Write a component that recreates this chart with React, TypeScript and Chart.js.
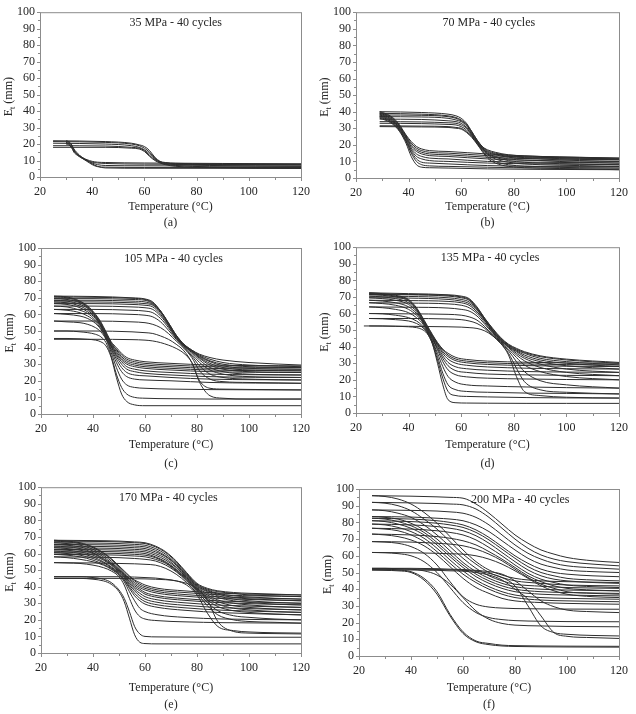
import React, { useEffect, useRef } from 'react';
import { Chart, registerables } from 'chart.js';

Chart.register(...registerables);

if (typeof document !== 'undefined') {
  document.body.style.margin = '0';
  document.body.style.background = '#ffffff';
}

// ---------- tick labels ----------
const X_TICKS = [20, 40, 60, 80, 100, 120];
const X_MINOR = [30, 50, 70, 90, 110];
const Y_TICKS = [0, 10, 20, 30, 40, 50, 60, 70, 80, 90, 100];
const Y_MINOR = [5, 15, 25, 35, 45, 55, 65, 75, 85, 95];

// ---------- panel titles ----------
const TITLES = ['35 MPa - 40 cycles', '70 MPa - 40 cycles', '105 MPa - 40 cycles', '135 MPa - 40 cycles', '170 MPa - 40 cycles', '200 MPa - 40 cycles'];
const CAPTIONS = ['(a)', '(b)', '(c)', '(d)', '(e)', '(f)'];

// ---------- (a) 35 MPa ----------
const HEAT_X_A = [25, 45, 55, 58, 60, 62, 64, 66, 68, 72, 85, 120];
const HEAT_A = [
  [22, 21.5, 20.5, 19.5, 18.5, 16, 12, 9.5, 8.8, 8.3, 8, 7.8],
  [21.5, 21, 20, 19, 17.5, 15, 11.5, 9.2, 8.5, 8, 7.5, 7.2],
  [20.5, 20, 19, 18, 16.5, 14, 11, 9, 8.2, 7.6, 7, 6.5],
  [19, 18.8, 18, 17.5, 16, 13, 10.5, 8.8, 7.8, 7, 6.2, 5.8],
  [18, 18, 17.5, 17, 15.5, 12.5, 10, 8.5, 7.5, 6.5, 5.8, 5.2],
];
const COOL_X_A = [30, 31, 32, 33, 34, 35, 36, 38, 40, 42, 45, 60, 120];
const COOL_A = [
  [22, 21.5, 20, 17, 15, 13.5, 12, 10.5, 9.5, 9, 8.8, 8.5, 8],
  [21.5, 21, 19.5, 16, 14, 12.5, 11.5, 10, 9, 8.5, 8.2, 7.8, 7.5],
  [21, 20.5, 19, 16.5, 14.5, 13, 12, 10, 8.5, 7.5, 7, 6.8, 6.5],
  [20.5, 20, 18.5, 15, 13.5, 12.5, 11.5, 9.5, 7.5, 6.3, 6, 5.8, 5.8],
  [20, 19.5, 18, 15.5, 14, 13, 12, 10, 8, 6.5, 5.5, 5.3, 5.2],
];

// ---------- (b) 70 MPa ----------
const HEAT_X_B = [29, 45, 55, 58, 60, 62, 64, 66, 68, 70, 73, 78, 90, 105, 120];
const HEAT_B = [
  [40, 39.5, 38.5, 37.5, 36, 33, 28, 23, 19, 17, 15.5, 14, 13, 12.5, 12],
  [39, 38.5, 37.5, 36.5, 35, 32.5, 28, 23, 19, 16.5, 15, 13.5, 12.5, 12, 11.5],
  [38, 37.8, 37, 36, 34.5, 32, 27.5, 22.5, 18.5, 16, 14.5, 13, 12, 11.5, 11],
  [37, 36.8, 36, 35, 34, 31.5, 27, 22, 18, 15.5, 14, 12.5, 11.5, 10.5, 10],
  [35.5, 35.3, 34.5, 34, 33, 30.5, 26.5, 22, 18, 15, 13, 11.5, 10.5, 9.5, 9],
  [34, 33.8, 33.3, 33, 32, 30, 26, 21.5, 17.5, 14.5, 12.5, 10.5, 9, 8.5, 8],
  [33, 32.8, 32.3, 32, 31, 29, 25.5, 21, 17, 14, 11.5, 9.5, 8, 7.5, 7],
  [31.5, 31.3, 31, 30.5, 30, 28, 25, 21, 16.5, 13, 10, 8, 6.8, 6.2, 6],
  [31, 30.8, 30.5, 30, 29.5, 27.5, 24.5, 20.5, 16, 12, 9, 7, 6, 5.5, 5],
];
const COOL_X_B = [29, 31, 33, 35, 37, 39, 41, 43, 45, 48, 55, 70, 90, 120];
const COOL_B = [
  [40, 39, 37.5, 35, 31, 26, 22, 19, 17.5, 16.5, 16, 14.5, 13, 12],
  [39.5, 38.5, 37, 34.5, 30.5, 25.5, 21, 18, 16.5, 15.5, 15, 13.5, 12.5, 11.5],
  [39, 38, 36.5, 34, 30, 25, 20, 17, 15.5, 14.5, 14, 12.5, 11.5, 11],
  [38.5, 37.5, 36, 33.5, 29.5, 24.5, 19, 16, 14.5, 13.5, 13, 11.5, 10.5, 10],
  [38, 37, 35.5, 33, 29, 24, 18, 14.5, 13, 12, 11.5, 10, 9.5, 9],
  [37.5, 36.5, 35, 32.5, 28.5, 23, 17, 13, 11.5, 10.5, 10, 9, 8.5, 8],
  [37, 36, 34.5, 32, 28, 22.5, 16, 11.5, 9.5, 9, 8.5, 7.5, 7, 7],
  [36.5, 35.5, 34, 31.5, 27.5, 22, 15, 10, 8, 7.3, 7, 6.5, 6, 6],
  [36, 35, 33.5, 31, 27, 21, 13, 8, 6.5, 6.2, 6, 5.5, 5.2, 5],
];

// ---------- (c) 105 MPa ----------
const HEAT_X_C = [25, 40, 55, 60, 63, 66, 69, 72, 75, 78, 81, 85, 90, 100, 120];
const HEAT_C = [
  [45, 45, 44.8, 44.5, 44, 43, 41.5, 39.5, 36.5, 31, 19, 11, 9.5, 9, 9],
  [50, 50, 49.5, 49, 48.5, 47, 45, 42, 38, 31, 20, 15.5, 15, 14.8, 14.5],
  [56, 56, 55.5, 55, 54, 52, 48.5, 44, 39.5, 34, 26, 21, 19.5, 19, 18.5],
  [60.5, 60.5, 60, 59.5, 58.5, 55.5, 50.5, 45, 40, 35, 29, 24, 22, 21, 20.5],
  [63, 63, 62.5, 62, 61, 57.5, 52, 45.5, 40.5, 36, 31, 26.5, 24, 22.5, 22],
  [65, 65, 64.5, 64, 63, 59, 53, 46, 41, 37, 32.5, 28, 25.5, 24, 23.5],
  [66.5, 66.5, 66, 65.5, 64.5, 60, 53.5, 46.5, 41, 37.5, 33.5, 29.5, 27, 25.5, 25],
  [67.5, 67.5, 67, 66.5, 65.5, 61, 54, 47, 41.5, 38, 34, 30.5, 28, 26.5, 26],
  [68.5, 68.5, 68, 67.5, 66, 61.5, 54.5, 47, 41.5, 38, 34.5, 31.5, 29, 27.5, 27],
  [69.5, 69.5, 69, 68.5, 66.5, 62, 54.5, 47, 41.5, 38, 35, 32, 30, 28.5, 28],
  [70.5, 70.3, 69.7, 69, 67, 62, 55, 47.5, 42, 38.5, 35.5, 33, 31, 29.5, 28.5],
  [71, 70.8, 70, 69.3, 67.5, 62, 55, 47.5, 42, 38.5, 36, 34, 32.5, 31, 29.5],
];
const COOL_X_C = [25, 30, 35, 38, 41, 43, 45, 47, 49, 51, 53, 56, 60, 70, 85, 120];
const COOL_C = [
  [45.5, 45.5, 45.3, 45, 44.5, 43.5, 41, 34, 22, 12, 7.5, 5.5, 5, 5, 5, 5],
  [50, 50, 49.5, 49, 48, 46.5, 43, 35, 24, 16, 12, 10, 9.5, 9.2, 9, 9],
  [56, 55.5, 55, 54, 52, 49.5, 45, 37, 28, 21, 17.5, 16, 15.5, 15, 14.7, 14.5],
  [60.5, 60, 59, 57.5, 54.5, 51, 45.5, 38.5, 31, 25.5, 22.5, 21, 20.5, 20, 19, 18.5],
  [63, 62.5, 61, 59, 55.5, 51.5, 46, 39.5, 33, 28, 25, 23.5, 23, 22, 21, 20.5],
  [65, 64.5, 62.5, 60.5, 56.5, 52.5, 46.5, 40.5, 34.5, 30, 27, 25.5, 24.5, 23.5, 22.5, 22],
  [66.5, 66, 64, 61.5, 57.5, 53, 47, 41, 35.5, 31.5, 28.5, 27, 26, 25, 24, 23.5],
  [67.5, 67, 65, 62.5, 58, 53.5, 47.5, 41.5, 36.5, 32.5, 30, 28.5, 27.5, 26.5, 25.5, 25],
  [68.5, 68, 66, 63.5, 58.5, 54, 48, 42, 37.5, 33.5, 31, 29.5, 28.5, 27.5, 26.5, 26],
  [69.5, 69, 67, 64, 59, 54.5, 48.5, 42.5, 38.5, 34.5, 32, 30.5, 29.5, 28.5, 27.5, 27],
  [70.5, 70, 67.5, 64.5, 59.5, 55, 49, 43, 39, 35.5, 33, 31.5, 30.5, 29.5, 28.5, 28],
  [71, 70.5, 68, 65, 60, 55.5, 49.5, 43.5, 40, 36.5, 34, 32.5, 31.5, 30.5, 29.5, 29],
];

// ---------- (d) 135 MPa ----------
const HEAT_X_D = [23, 25, 40, 55, 60, 63, 66, 69, 72, 75, 78, 81, 84, 90, 100, 120];
const HEAT_D = [
  [null, 72.5, 72, 71.3, 70.5, 69, 64, 57, 51, 45.5, 41.5, 39, 37, 34.5, 32.5, 30.5],
  [null, 72, 71.5, 71, 70, 68.5, 63.5, 57, 50.5, 45, 41, 38.5, 36.5, 34, 32, 30],
  [null, 71.5, 71.3, 70.5, 69.5, 68, 63, 56.5, 50, 45, 41, 38, 36, 33, 31, 29],
  [null, 70.5, 70.3, 69.5, 68.5, 67, 62.5, 56, 49.5, 44.5, 40.5, 37.5, 35, 32, 30, 28],
  [null, 69.5, 69.3, 68.5, 67.5, 66, 62, 56, 49.5, 44, 40, 37, 34, 31, 28.5, 26.5],
  [null, 68, 67.8, 67.3, 66.5, 65, 61, 55.5, 49, 44, 40, 36, 33, 29.5, 26.5, 24.5],
  [null, 66.5, 66.3, 65.8, 65, 63.5, 60, 54.5, 48.5, 43.5, 39.5, 35, 31.5, 27.5, 24.5, 22.5],
  [null, 64, 63.8, 63.3, 62.5, 61.5, 58.5, 53.5, 48, 43, 38.5, 33.5, 29, 25, 22, 20],
  [null, 60, 59.8, 59.5, 59, 58, 56, 52, 47, 42.5, 37.5, 31, 25, 19.5, 17, 15],
  [null, 57, 57, 56.7, 56.3, 55.5, 54, 51, 46.5, 42, 36, 27, 19, 14, 12.5, 11.5],
  [52.5, 52.5, 52.3, 52, 51.8, 51.5, 51, 49.5, 46.5, 42, 35, 22, 13, 10.5, 9.5, 9],
];
const COOL_X_D = [25, 30, 35, 40, 43, 45, 47, 49, 51, 53, 55, 58, 62, 70, 85, 100, 120];
const COOL_D = [
  [52.5, 52.5, 52.3, 52, 51.5, 50.5, 48, 42, 30, 17, 8, 6.2, 6, 5.9, 5.8, 5.8, 5.8],
  [57, 56.8, 56.3, 55.5, 54, 52, 48.5, 42, 32, 21, 13, 10.5, 10, 9.7, 9.3, 9.1, 9],
  [60, 59.8, 59, 57.5, 55.5, 53, 49, 43, 34, 24, 17, 14, 13, 12.5, 12, 11.8, 11.5],
  [64, 63.5, 62.5, 60.5, 57.5, 54.5, 49.5, 43.5, 36, 28, 22, 18.5, 17, 16.3, 15.7, 15.3, 15],
  [66.5, 66, 65, 62.5, 59, 55.5, 50, 44.5, 38, 31, 26, 23, 21.8, 21, 20.5, 20.2, 20],
  [68, 67.5, 66.5, 64, 60, 56, 50.5, 45, 39, 33, 28.5, 25.5, 24.5, 23.5, 23, 22.7, 22.5],
  [69.5, 69, 68, 65.5, 61, 56.5, 51, 45.5, 40, 34.5, 30.5, 27.8, 26.7, 25.8, 25, 24.7, 24.5],
  [70.5, 70, 69, 66.5, 62, 57, 51.5, 46, 41, 36, 32.5, 30, 28.8, 27.8, 27, 26.7, 26.5],
  [71.5, 71, 70, 67.5, 62.5, 57.5, 52, 46.5, 41.5, 37, 34, 31.5, 30.3, 29.3, 28.6, 28.2, 28],
  [72, 71.5, 70.5, 68, 63, 58, 52.5, 47, 42, 38, 35, 32.5, 31.3, 30.3, 29.6, 29.2, 29],
  [72.5, 72, 71, 68.5, 63.5, 58.5, 53, 47.5, 42.5, 38.5, 36, 33.5, 32.3, 31.3, 30.6, 30.2, 30],
];

// ---------- (e) 170 MPa ----------
const HEAT_X_E = [25, 40, 50, 56, 60, 64, 68, 72, 76, 80, 84, 88, 94, 100, 110, 120];
const HEAT_E = [
  [68, 67.8, 67.5, 67, 66.5, 64.5, 61, 55.5, 48.5, 42, 39, 37.5, 36.5, 36, 35.5, 35],
  [67.5, 67.3, 67, 66.5, 66, 64, 60.5, 55, 48, 41.5, 38.5, 37, 36, 35, 34.5, 34],
  [66.5, 66.3, 66, 65.5, 65, 63, 59.5, 54, 47.5, 41, 38, 36, 34.5, 33.8, 33, 32.5],
  [65.5, 65.3, 65, 64.5, 64, 62, 58.5, 53.5, 47, 40.5, 37.5, 35.5, 33.5, 32.7, 32, 31.5],
  [64.5, 64.3, 64, 63.5, 63, 61, 58, 53, 46.5, 40, 37, 34.5, 32.5, 31.5, 30.5, 30],
  [63.5, 63.3, 63, 62.5, 62, 60, 57, 52, 46, 39.5, 36, 33.5, 31.5, 30.5, 29.5, 29],
  [62.5, 62.3, 62, 61.5, 61, 59, 56, 51.5, 45.5, 39, 35, 32, 30, 29, 28, 27.5],
  [61.5, 61.3, 61, 60.5, 60, 58, 55, 50.5, 45, 38.5, 34, 31, 28.5, 27.5, 26.5, 26],
  [60.5, 60.3, 60, 59.5, 59, 57.5, 54.5, 50, 44.5, 38, 33, 29.5, 27, 26, 25, 24.5],
  [59.5, 59.3, 59, 58.5, 58, 56.5, 54, 49.5, 44, 37.5, 32, 28, 25.5, 24.5, 23.5, 23],
  [58, 57.8, 57.5, 57, 56.5, 55.5, 53, 49, 43.5, 37, 30.5, 25.5, 22.5, 21.5, 20.5, 20],
  [54.5, 54.3, 54, 53.8, 53.5, 53, 51, 47.5, 42.5, 36, 28.5, 23, 20, 19, 18.5, 18],
  [46, 46, 46, 45.8, 45.5, 45.2, 44.5, 43.5, 41, 35, 24, 16, 13.5, 12.7, 12.2, 12],
  [45, 45, 45, 44.8, 44.7, 44.5, 44.2, 43.5, 42, 39, 32, 19, 13, 12, 11.7, 11.5],
];
const COOL_X_E = [25, 30, 35, 40, 44, 47, 50, 52, 54, 56, 58, 60, 65, 75, 90, 120];
const COOL_E = [
  [68, 67.5, 66.5, 64, 60.5, 57, 52.5, 49.5, 46.5, 44, 42.5, 41, 39, 37.5, 36, 35],
  [67.5, 67, 66, 63.5, 60, 56.5, 52, 49, 46, 43.5, 41.5, 40, 38, 36.5, 35, 34],
  [66.5, 66, 65, 62.5, 59, 55.5, 51, 48, 45, 42.5, 40.5, 39, 37, 35.3, 33.8, 32.5],
  [65.5, 65, 64, 61.5, 58, 54.5, 50.5, 47.5, 44.5, 41.5, 39.5, 38, 36, 34.3, 32.8, 31.5],
  [64.5, 64, 63, 60.5, 57, 54, 50, 47, 43.5, 40.5, 38.5, 36.5, 34.5, 32.8, 31.3, 30],
  [63.5, 63, 62, 60, 56.5, 53.5, 49.5, 46.5, 43, 39.5, 37.5, 35.5, 33.5, 31.8, 30.3, 29],
  [62.5, 62, 61, 59, 56, 53, 49, 46, 42, 38.5, 36, 34, 32, 30.3, 28.8, 27.5],
  [61.5, 61, 60, 58, 55, 52, 48.5, 45.5, 41, 37.5, 34.5, 32.5, 30.5, 28.8, 27.3, 26],
  [60.5, 60, 59, 57, 54.5, 51.5, 48, 44.5, 40, 36, 33, 31, 29, 27.3, 25.8, 24.5],
  [59.5, 59, 58, 56, 53.5, 51, 47.5, 44, 39, 34.5, 31.5, 29.5, 27.5, 25.8, 24.3, 23],
  [58, 57.5, 56.5, 55, 53, 50.5, 47, 43, 37, 31.5, 27, 25, 23, 21.5, 20.5, 20],
  [54.5, 54.3, 54, 53, 51.5, 49.5, 46, 41, 33, 26, 22, 20.5, 19.5, 18.8, 18.3, 18],
  [46, 46, 46, 45.5, 44.5, 42.5, 38, 33, 25, 16, 11.5, 10, 9.7, 9.6, 9.5, 9.5],
  [45, 45, 45, 44.5, 43.5, 41.5, 37, 31, 21, 11, 6.5, 5.7, 5.5, 5.5, 5.5, 5.5],
];

// ---------- (f) 200 MPa ----------
const HEAT_X_F = [25, 40, 50, 55, 60, 65, 70, 75, 80, 85, 90, 95, 100, 110, 120];
const HEAT_F = [
  [96, 95.7, 95.3, 95, 94.5, 91, 85.5, 79, 72.5, 67.5, 63.5, 61, 59, 57, 56],
  [92, 91.7, 91.3, 91, 90.5, 88, 83, 76.5, 70, 64.5, 60.5, 58, 56.5, 55, 54],
  [87.5, 87.2, 86.8, 86.3, 85.5, 83, 78.5, 72.5, 66.5, 61.5, 58, 55.5, 54, 52.8, 52],
  [83.5, 83.2, 82.5, 82, 81, 78.5, 74.5, 69, 63.5, 58.5, 55, 53, 51.5, 50.5, 50],
  [82.5, 82, 81, 80, 78.5, 75.5, 71, 65.5, 60, 55.5, 52, 50, 49, 48, 47.5],
  [81, 80.5, 79.5, 78.5, 77, 74, 69.5, 64, 58.5, 53.5, 50, 48, 46.5, 45.5, 45],
  [79, 78.5, 77.5, 76.5, 75, 72, 67.5, 62, 56.5, 51.5, 48, 46, 45, 44, 43.5],
  [76.5, 76, 75, 74, 72.5, 69.5, 65, 60, 54.5, 49.5, 46, 44, 42.5, 41.5, 41],
  [73, 72.5, 71.5, 70.5, 69, 66.5, 62.5, 58, 53, 48, 44.5, 42, 40.5, 39.5, 39],
  [68.5, 68.2, 67.5, 67, 66, 64, 61, 57, 52, 47, 43, 40.5, 38.5, 37.5, 37],
  [62, 61.8, 61.5, 61.2, 61, 60, 58, 55, 51, 46.5, 42, 39, 37, 35.5, 35],
  [52.5, 52.5, 52.3, 52, 51.8, 51.3, 50.5, 49, 45, 39, 33, 29.5, 27.5, 26.5, 26],
  [52, 52, 51.8, 51.6, 51.3, 50.8, 49.5, 47, 42, 30, 18, 14, 13, 12.3, 12],
  [51.5, 51.5, 51.3, 51, 50.8, 50, 48.5, 45.5, 40, 34, 24, 14, 11.8, 11, 10.5],
];
const COOL_X_F = [25, 30, 35, 40, 45, 50, 55, 60, 65, 70, 75, 80, 90, 100, 120];
const COOL_F = [
  [96, 95.5, 94, 91, 86, 79.5, 71.5, 63.5, 56.5, 51.5, 48.5, 46.5, 45, 44.5, 44],
  [92, 91.5, 90, 87, 82, 76, 68.5, 61, 55, 50, 47, 45, 43.5, 42.5, 42],
  [87.5, 87, 85.5, 83, 78.5, 72.5, 65.5, 58.5, 52.5, 48, 45, 43, 41.8, 41, 40.5],
  [83.5, 83, 82, 79.5, 75.5, 70, 63, 56, 50.5, 46.5, 43.5, 41.5, 40, 39.5, 39],
  [82.5, 82, 80.5, 78, 74, 68, 61, 54.5, 49, 45, 42, 40, 38.5, 38, 37.5],
  [81, 80.5, 79, 76.5, 72.5, 66.5, 59.5, 53, 47.5, 43.5, 40.5, 38.5, 37, 36.5, 36],
  [79, 78.5, 77, 74.5, 70.5, 64.5, 57.5, 51, 45.5, 41.5, 38.5, 36.5, 35, 34.5, 34],
  [76.5, 76, 75, 72.5, 68.5, 62.5, 55.5, 49, 44, 40, 37, 35, 33.5, 33, 32.5],
  [73, 72.5, 71.5, 69.5, 66, 60.5, 53.5, 46.5, 41, 37.5, 34.5, 33, 32, 31.5, 31],
  [68.5, 68.2, 67.5, 65.5, 61.5, 54.5, 44.5, 35.5, 31, 29.3, 28.7, 28.4, 28.2, 28.1, 28],
  [62, 61.8, 61.3, 60, 56.5, 50, 41, 32, 26, 23, 21.8, 21.2, 20.8, 20.6, 20.5],
  [52.5, 52.5, 52.3, 52, 51, 48.5, 43, 35, 27, 22, 19.5, 18.5, 18, 17.7, 17.5],
  [52, 52, 51.5, 50.5, 46.5, 38.5, 25, 14.5, 9, 7.5, 6.5, 6.2, 6, 5.9, 5.8],
  [51.5, 51.3, 51, 50, 45.5, 37, 24, 13.5, 8.5, 6.8, 6, 5.7, 5.5, 5.4, 5.3],
];

// ---------- styling / layout ----------
const FONT = "'Liberation Serif', 'Times New Roman', Times, serif";
const LINE_COLOR = '#2e2e2e';
const FRAME_COLOR = '#8c8c8c';
const TEXT_COLOR = '#262626';
const Y_AXIS_W = 32;

type PanelCfg = {
  title: string;
  caption: string;
  titleX: number;
  heatX: number[];
  heat: (number | null)[][];
  coolX: number[];
  cool: (number | null)[][];
  box: [number, number, number, number]; // left, top, width, height (page px)
  plot: [number, number, number, number]; // left, top, right, bottom (page px)
  capY: number;
  capGap: number;
};

const PANELS: PanelCfg[] = [
  { title: TITLES[0], caption: CAPTIONS[0], titleX: 72, heatX: HEAT_X_A, heat: HEAT_A, coolX: COOL_X_A, cool: COOL_A, box: [0, 0, 318, 235], plot: [40, 11, 306, 177], capY: 223, capGap: 16 },
  { title: TITLES[1], caption: CAPTIONS[1], titleX: 70.5, heatX: HEAT_X_B, heat: HEAT_B, coolX: COOL_X_B, cool: COOL_B, box: [318, 0, 318, 235], plot: [356, 11, 621, 178], capY: 223, capGap: 16 },
  { title: TITLES[2], caption: CAPTIONS[2], titleX: 71, heatX: HEAT_X_C, heat: HEAT_C, coolX: COOL_X_C, cool: COOL_C, box: [0, 235, 318, 240], plot: [41, 248, 307, 414], capY: 464, capGap: 19 },
  { title: TITLES[3], caption: CAPTIONS[3], titleX: 71, heatX: HEAT_X_D, heat: HEAT_D, coolX: COOL_X_D, cool: COOL_D, box: [318, 235, 318, 240], plot: [356, 247, 621, 413], capY: 464, capGap: 19 },
  { title: TITLES[4], caption: CAPTIONS[4], titleX: 69, heatX: HEAT_X_E, heat: HEAT_E, coolX: COOL_X_E, cool: COOL_E, box: [0, 475, 318, 239], plot: [41, 487, 306, 653], capY: 705, capGap: 17 },
  { title: TITLES[5], caption: CAPTIONS[5], titleX: 82, heatX: HEAT_X_F, heat: HEAT_F, coolX: COOL_X_F, cool: COOL_F, box: [318, 475, 318, 239], plot: [359, 489, 624, 656], capY: 705, capGap: 17 },
];

function toPoints(xs: number[], ys: (number | null)[]) {
  const pts: { x: number; y: number }[] = [];
  xs.forEach((x, i) => {
    const y = ys[i];
    if (y !== null && y !== undefined) pts.push({ x, y });
  });
  return pts;
}

function decorPlugin(p: PanelCfg) {
  return {
    id: 'decor',
    afterDraw(chart: any) {
      const { ctx, chartArea } = chart;
      const xs = chart.scales.x;
      const ys = chart.scales.y;
      const L = chartArea.left, T = chartArea.top, R = chartArea.right, B = chartArea.bottom;
      ctx.save();
      // frame
      ctx.strokeStyle = FRAME_COLOR;
      ctx.lineWidth = 1;
      ctx.strokeRect(L + 0.5, T + 0.5, R - L, B - T);
      // ticks
      ctx.beginPath();
      X_TICKS.forEach((v) => {
        const px = Math.round(xs.getPixelForValue(v)) + 0.5;
        ctx.moveTo(px, B + 0.5);
        ctx.lineTo(px, B + 4);
      });
      X_MINOR.forEach((v) => {
        const px = Math.round(xs.getPixelForValue(v)) + 0.5;
        ctx.moveTo(px, B + 0.5);
        ctx.lineTo(px, B + 3);
      });
      Y_TICKS.forEach((v) => {
        const py = Math.round(ys.getPixelForValue(v)) + 0.5;
        ctx.moveTo(L + 0.5, py);
        ctx.lineTo(L - 3, py);
      });
      Y_MINOR.forEach((v) => {
        const py = Math.round(ys.getPixelForValue(v)) + 0.5;
        ctx.moveTo(L + 0.5, py);
        ctx.lineTo(L - 2, py);
      });
      ctx.stroke();

      // in-plot title
      ctx.fillStyle = TEXT_COLOR;
      ctx.font = `12px ${FONT}`;
      ctx.textAlign = 'center';
      ctx.textBaseline = 'middle';
      ctx.fillText(p.title, xs.getPixelForValue(p.titleX), T + 11);

      // y-axis title with subscript: E_t (mm)
      ctx.translate(L - 28.5, (T + B) / 2 + 2);
      ctx.rotate(-Math.PI / 2);
      ctx.textAlign = 'left';
      ctx.textBaseline = 'alphabetic';
      const big = `12px ${FONT}`;
      const small = `8px ${FONT}`;
      ctx.font = big;
      const wE = ctx.measureText('E').width;
      const wR = ctx.measureText(' (mm)').width;
      ctx.font = small;
      const wT = ctx.measureText('t').width;
      const x0 = -(wE + wT + wR) / 2;
      ctx.font = big;
      ctx.fillText('E', x0, 0);
      ctx.font = small;
      ctx.fillText('t', x0 + wE, 3);
      ctx.font = big;
      ctx.fillText(' (mm)', x0 + wE + wT, 0);
      ctx.restore();
    },
  };
}

function Panel({ p }: { p: PanelCfg }) {
  const ref = useRef<HTMLCanvasElement | null>(null);
  const [bx, by, W, H] = p.box;

  useEffect(() => {
    const canvas = ref.current;
    if (!canvas) return;
    const plotL = p.plot[0] - bx;
    const plotT = p.plot[1] - by;
    const plotR = p.plot[2] - bx;
    const plotB = p.plot[3] - by;
    const ds = (xs: number[], ys: (number | null)[]) => ({
      data: toPoints(xs, ys),
      borderColor: LINE_COLOR,
      borderWidth: 1,
      pointRadius: 0,
      fill: false,
      cubicInterpolationMode: 'monotone' as const,
    });
    const datasets = [
      ...p.heat.map((ys) => ds(p.heatX, ys)),
      ...p.cool.map((ys) => ds(p.coolX, ys)),
    ];
    const titlePadBottom = H - (p.capY - by) - p.capGap / 2;

    const chart = new Chart(canvas, {
      type: 'line',
      data: { datasets },
      options: {
        responsive: false,
        maintainAspectRatio: false,
        animation: false,
        devicePixelRatio: 1,
        events: [],
        layout: { padding: { left: plotL - Y_AXIS_W, top: plotT, right: W - plotR, bottom: 0 } },
        plugins: {
          legend: { display: false },
          tooltip: { enabled: false },
          title: { display: false },
        },
        scales: {
          x: {
            type: 'linear',
            position: 'bottom',
            min: 20,
            max: 120,
            afterBuildTicks: (s: any) => {
              s.ticks = X_TICKS.map((v) => ({ value: v }));
            },
            afterFit: (s: any) => {
              s.height = H - plotB;
            },
            ticks: {
              autoSkip: false,
              maxRotation: 0,
              padding: 8,
              color: TEXT_COLOR,
              font: { family: FONT, size: 12 },
              callback: (v: any) => String(v),
            },
            grid: { display: false, drawTicks: false },
            border: { display: false },
            title: {
              display: true,
              text: ['Temperature (°C)', p.caption],
              color: TEXT_COLOR,
              font: { family: FONT, size: 12, lineHeight: `${p.capGap}px` },
              padding: { top: 0, bottom: titlePadBottom },
            },
          },
          y: {
            type: 'linear',
            position: 'left',
            min: 0,
            max: 100,
            afterBuildTicks: (s: any) => {
              s.ticks = Y_TICKS.map((v) => ({ value: v }));
            },
            afterFit: (s: any) => {
              s.width = Y_AXIS_W;
            },
            ticks: {
              autoSkip: false,
              padding: 5,
              color: TEXT_COLOR,
              font: { family: FONT, size: 12 },
              callback: (v: any) => String(v),
            },
            grid: { display: false, drawTicks: false },
            border: { display: false },
          },
        },
      } as any,
      plugins: [decorPlugin(p)],
    });
    return () => chart.destroy();
  }, [p]);

  return (
    <canvas
      ref={ref}
      width={W}
      height={H}
      style={{ position: 'absolute', left: bx, top: by, width: W, height: H, display: 'block' }}
    />
  );
}

export default function App() {
  return (
    <div style={{ position: 'relative', width: 636, height: 714, background: '#ffffff', overflow: 'hidden' }}>
      {PANELS.map((p, i) => (
        <Panel key={i} p={p} />
      ))}
    </div>
  );
}
